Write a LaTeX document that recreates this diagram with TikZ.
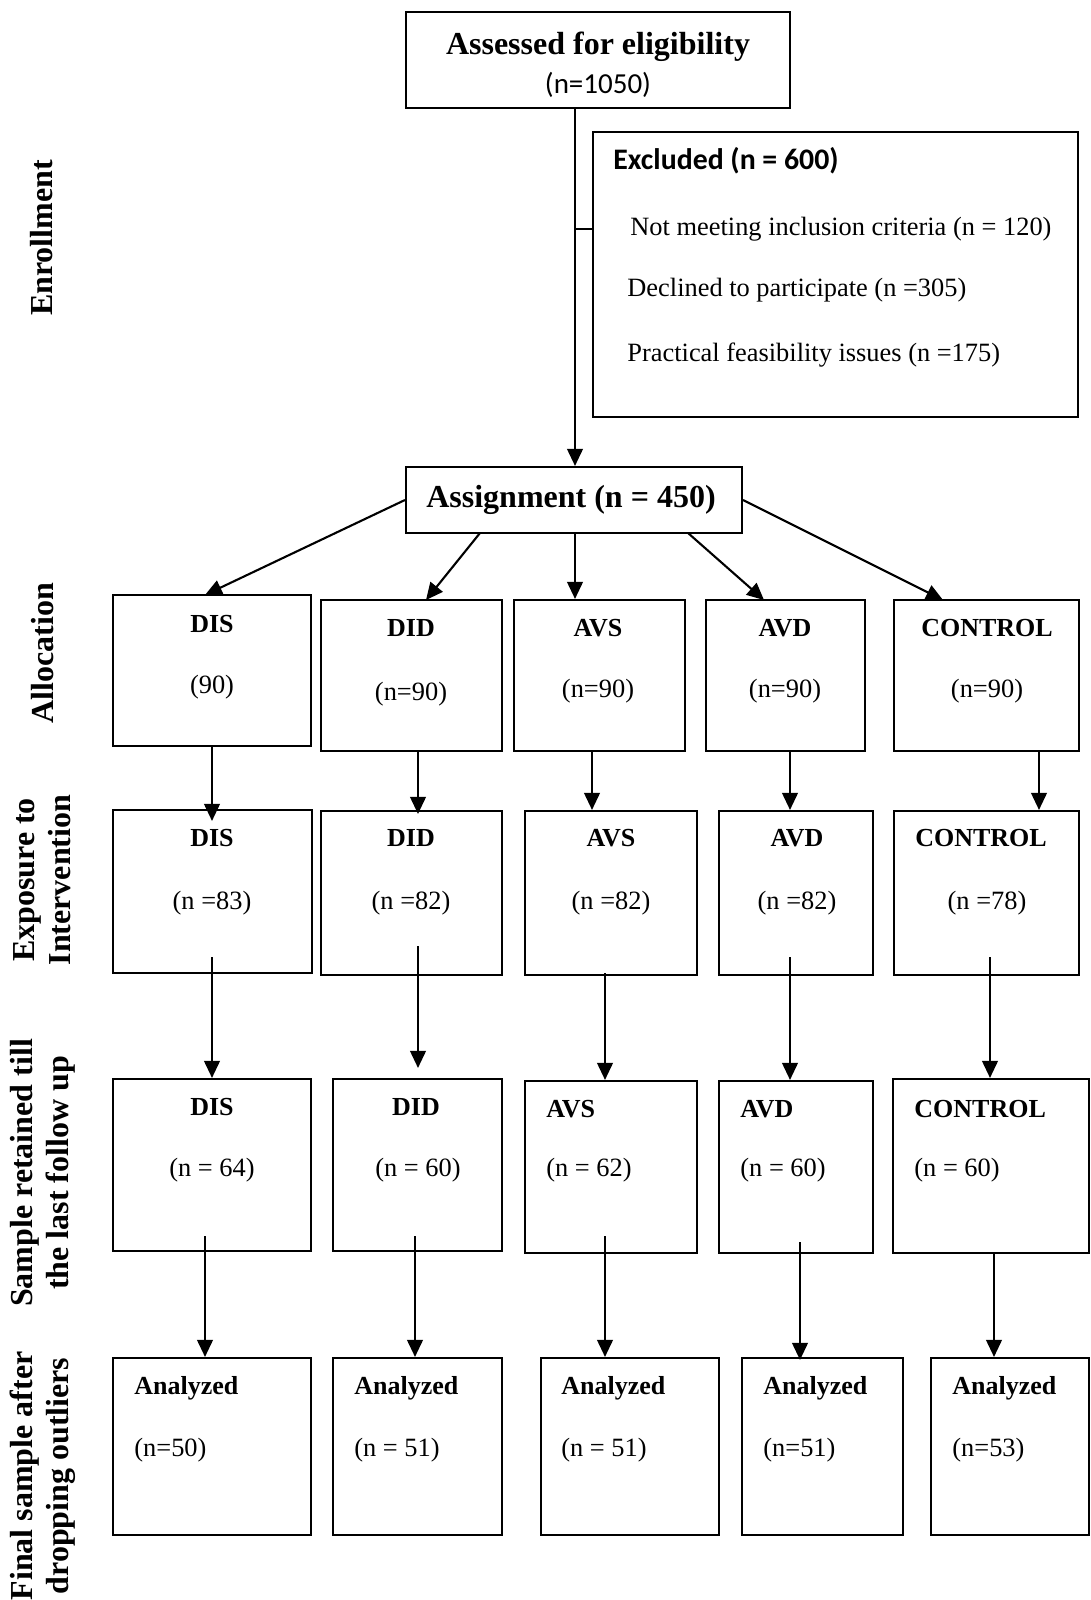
\documentclass[tikz,border=0pt]{standalone}
\usepackage{fontspec}
\setmainfont{Liberation Serif}
\newfontfamily\calfont{Carlito}
\usetikzlibrary{arrows.meta,fit}
\begin{document}
\begin{tikzpicture}[x=0.5pt,y=-0.5pt,
  box/.style={draw, line width=1.05pt, inner sep=0pt},
  arr/.style={line width=1.05pt, -{Triangle[length=8.5pt,width=7.8pt]}},
  ln/.style={line width=1.05pt},
  ttl/.style={font=\fontsize{13}{15}\selectfont\bfseries, inner sep=0pt, yshift=-2.5pt},
  num/.style={font=\fontsize{13.2}{15}\selectfont, inner sep=0pt, yshift=-2.5pt},
  big/.style={font=\fontsize{16}{19}\selectfont\bfseries, inner sep=0pt, yshift=-3pt},
  side/.style={rotate=90, align=center, font=\fontsize{16}{18}\selectfont\bfseries, inner sep=0pt}]
\useasboundingbox (0,0) rectangle (1091,1600);

% top boxes
\node[box, fit={(406,12)(790,108)}] (asse) {};
\node[big, anchor=mid] (asset) at (598,44) {Assessed for eligibility};
\node[inner sep=0pt, anchor=mid, yshift=-2.5pt, font=\calfont\fontsize{14.5}{16}\selectfont] (assen) at (598,84) {(n=1050)};

\node[box, fit={(593,132)(1078,417)}] (excl) {};
\node[inner sep=0pt, anchor=mid west, yshift=-2.5pt, font=\calfont\bfseries\fontsize{14.9}{17}\selectfont] (exclt) at (613,160) {Excluded (n = 600)};
\node[num, anchor=mid west] (ex1) at (630,226) {Not meeting inclusion criteria (n = 120)};
\node[num, anchor=mid west] (ex2) at (627,287) {Declined to participate (n =305)};
\node[num, anchor=mid west] (ex3) at (627,352) {Practical feasibility issues (n =175)};

\node[box, fit={(406,467)(742,533)}] (assg) {};
\node[big, anchor=mid] (assgt) at (571,497) {Assignment (n = 450)};

\coordinate (trunk) at (575,108);
\coordinate (br) at (575,229);
\draw[arr] (trunk) -- (trunk |- assg.north);
\draw[ln] (br) -- (br -| excl.west);

% row 1
\node[box, fit={(113,595)(311,746)}] (a1) {};
\node[box, fit={(321,600)(502,751)}] (a2) {};
\node[box, fit={(514,600)(685,751)}] (a3) {};
\node[box, fit={(706,600)(865,751)}] (a4) {};
\node[box, fit={(894,600)(1079,751)}] (a5) {};
\node[ttl, anchor=mid] (a1t) at (212,623) {DIS};
\node[ttl, anchor=mid] (a2t) at (411,627) {DID};
\node[ttl, anchor=mid] (a3t) at (598,627) {AVS};
\node[ttl, anchor=mid] (a4t) at (785,627) {AVD};
\node[ttl, anchor=mid] (a5t) at (987,627) {CONTROL};
\node[num, anchor=mid] (a1n) at (212,684) {(90)};
\node[num, anchor=mid] (a2n) at (411,691) {(n=90)};
\node[num, anchor=mid] (a3n) at (598,688) {(n=90)};
\node[num, anchor=mid] (a4n) at (785,688) {(n=90)};
\node[num, anchor=mid] (a5n) at (987,688) {(n=90)};

% assignment arrows
\coordinate (e1) at (205,595);
\coordinate (s2) at (480,533);
\coordinate (e2) at (426,600);
\coordinate (e4) at (764,600);
\coordinate (s4) at (688,533);
\coordinate (e5) at (943,600);
\draw[arr] (assg.west) -- (e1);
\draw[arr] (s2) -- (e2);
\draw[arr] (assg.south -| trunk) -- (a3.north -| trunk);
\draw[arr] (s4) -- (e4);
\draw[arr] (assg.east) -- (e5);

% row 2
\node[box, fit={(113,810)(312,973)}] (b1) {};
\node[box, fit={(321,811)(502,975)}] (b2) {};
\node[box, fit={(525,811)(697,975)}] (b3) {};
\node[box, fit={(719,811)(873,975)}] (b4) {};
\node[box, fit={(894,811)(1079,975)}] (b5) {};
\node[ttl, anchor=mid] (b1t) at (212,837) {DIS};
\node[ttl, anchor=mid] (b2t) at (411,837) {DID};
\node[ttl, anchor=mid] (b3t) at (611,837) {AVS};
\node[ttl, anchor=mid] (b4t) at (797,837) {AVD};
\node[ttl, anchor=mid] (b5t) at (981,837) {CONTROL};
\node[num, anchor=mid] (b1n) at (212,900) {(n =83)};
\node[num, anchor=mid] (b2n) at (411,900) {(n =82)};
\node[num, anchor=mid] (b3n) at (611,900) {(n =82)};
\node[num, anchor=mid] (b4n) at (797,900) {(n =82)};
\node[num, anchor=mid] (b5n) at (987,900) {(n =78)};

\coordinate (x1) at (212,0);
\coordinate (x2) at (418,0);
\coordinate (x3) at (592,0);
\coordinate (x4) at (790,0);
\coordinate (x5) at (1039,0);
\draw[arr, shorten >=-6pt] (a1.south -| x1) -- (b1.north -| x1);
\draw[arr, shorten >=-2pt] (a2.south -| x2) -- (b2.north -| x2);
\draw[arr] (a3.south -| x3) -- (b3.north -| x3);
\draw[arr] (a4.south -| x4) -- (b4.north -| x4);
\draw[arr] (a5.south -| x5) -- (b5.north -| x5);

% row 3
\node[box, fit={(113,1079)(311,1251)}] (c1) {};
\node[box, fit={(333,1079)(502,1251)}] (c2) {};
\node[box, fit={(525,1081)(697,1253)}] (c3) {};
\node[box, fit={(719,1081)(873,1253)}] (c4) {};
\node[box, fit={(893,1079)(1089,1253)}] (c5) {};
\node[ttl, anchor=mid] (c1t) at (212,1106) {DIS};
\node[ttl, anchor=mid] (c2t) at (416,1106) {DID};
\node[ttl, anchor=mid west] (c3t) at (546,1108) {AVS};
\node[ttl, anchor=mid west] (c4t) at (740,1108) {AVD};
\node[ttl, anchor=mid west] (c5t) at (914,1108) {CONTROL};
\node[num, anchor=mid] (c1n) at (212,1167) {(n = 64)};
\node[num, anchor=mid] (c2n) at (418,1167) {(n = 60)};
\node[num, anchor=mid west] (c3n) at (546,1167) {(n = 62)};
\node[num, anchor=mid west] (c4n) at (740,1167) {(n = 60)};
\node[num, anchor=mid west] (c5n) at (914,1167) {(n = 60)};

\coordinate (s21) at (212,957);
\coordinate (s22) at (418,946);
\coordinate (s23) at (605,973);
\coordinate (s24) at (790,957);
\coordinate (s25) at (990,957);
\draw[arr] (s21) -- (s21 |- c1.north);
\draw[arr, shorten >=5pt] (s22) -- (s22 |- c2.north);
\draw[arr] (s23) -- (s23 |- c3.north);
\draw[arr] (s24) -- (s24 |- c4.north);
\draw[arr] (s25) -- (s25 |- c5.north);

% row 4
\node[box, fit={(113,1358)(311,1535)}] (d1) {};
\node[box, fit={(333,1358)(502,1535)}] (d2) {};
\node[box, fit={(541,1358)(719,1535)}] (d3) {};
\node[box, fit={(742,1358)(903,1535)}] (d4) {};
\node[box, fit={(931,1358)(1089,1535)}] (d5) {};
\node[ttl, anchor=mid west] (d1t) at (134,1385) {Analyzed};
\node[ttl, anchor=mid west] (d2t) at (354,1385) {Analyzed};
\node[ttl, anchor=mid west] (d3t) at (561,1385) {Analyzed};
\node[ttl, anchor=mid west] (d4t) at (763,1385) {Analyzed};
\node[ttl, anchor=mid west] (d5t) at (952,1385) {Analyzed};
\node[num, anchor=mid west] (d1n) at (134,1447) {(n=50)};
\node[num, anchor=mid west] (d2n) at (354,1447) {(n = 51)};
\node[num, anchor=mid west] (d3n) at (561,1447) {(n = 51)};
\node[num, anchor=mid west] (d4n) at (763,1447) {(n=51)};
\node[num, anchor=mid west] (d5n) at (952,1447) {(n=53)};

\coordinate (s31) at (205,1236);
\coordinate (s32) at (415,1236);
\coordinate (s33) at (605,1236);
\coordinate (s34) at (800,1242);
\coordinate (s35) at (994,1253);
\draw[arr] (s31) -- (s31 |- d1.north);
\draw[arr] (s32) -- (s32 |- d2.north);
\draw[arr] (s33) -- (s33 |- d3.north);
\draw[arr, shorten >=-1.5pt] (s34) -- (s34 |- d4.north);
\draw[arr] (s35) -- (s35 |- d5.north);

% side labels
\node[side] (l1) at (42,238) {Enrollment};
\node[side] (l2) at (43,653) {Allocation};
\node[side] (l3) at (42,880) {Exposure to\\Intervention};
\node[side] (l4) at (43,1173) {Sample retained till\\the last follow up};
\node[side] (l5) at (43,1476) {Final sample after\\dropping outliers};
\end{tikzpicture}
\end{document}
